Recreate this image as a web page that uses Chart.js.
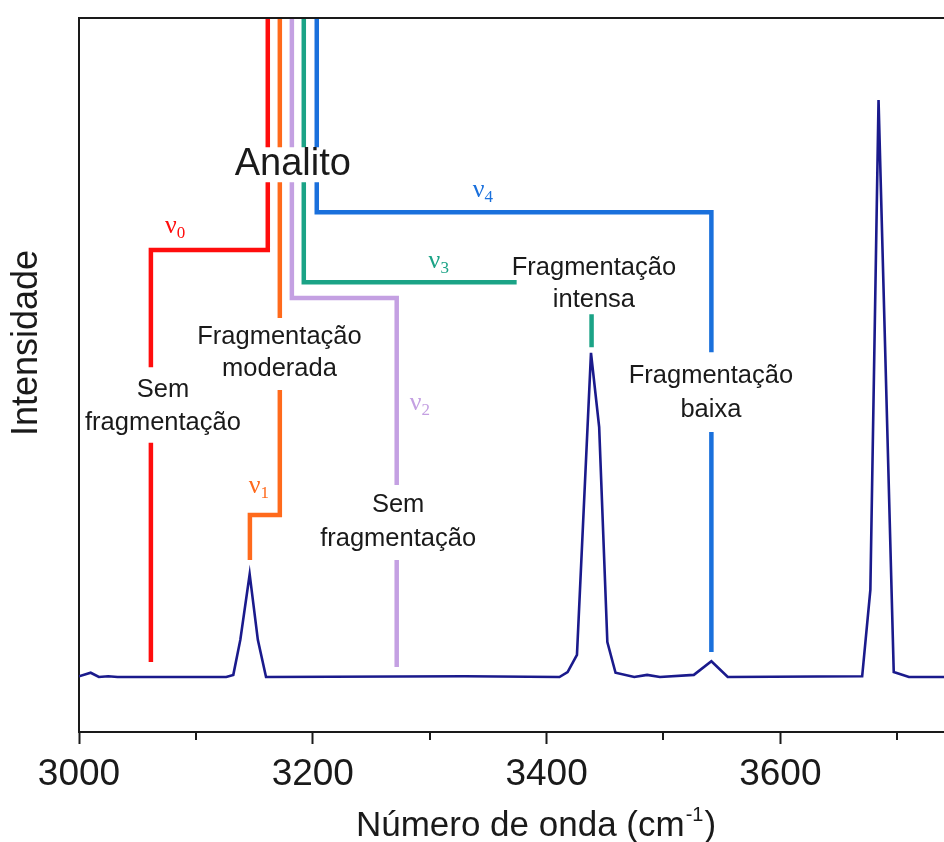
<!DOCTYPE html>
<html>
<head>
<meta charset="utf-8">
<script src="https://cdn.jsdelivr.net/npm/chart.js@4/dist/chart.umd.min.js"></script>
<style>
  html, body { margin: 0; padding: 0; background: #fff; }
  #wrap { width: 944px; height: 842px; }
</style>
</head>
<body>
<div id="wrap"><canvas id="spectrum" width="944" height="842"></canvas></div>
<script>
// espectro (número de onda x intensidade, unidades arbitrárias)
const waveNumber = [3000, 3010, 3017, 3025, 3033, 3126, 3132, 3138, 3146, 3153, 3160, 3330,
                    3411, 3418, 3426, 3438, 3445, 3452, 3459, 3475, 3486, 3497, 3526, 3541,
                    3555, 3670, 3677, 3684, 3697, 3710, 3740];
const intensity = [7.8, 8.3, 7.7, 7.8, 7.7, 7.7, 8.0, 12.9, 22.1, 12.9, 7.7, 7.8,
                   7.7, 8.4, 10.8, 53.1, 42.7, 12.6, 8.3, 7.7, 8.0, 7.7, 8.0, 9.9,
                   7.7, 7.8, 19.9, 88.5, 8.4, 7.7, 7.7];

// ticks do eixo x
const xTicks = [3000, 3100, 3200, 3300, 3400, 3500, 3600, 3700];
const xTickLabels = ['3000', '', '3200', '', '3400', '', '3600', ''];

// caminhos v0..v4 (null = interrupção para o texto)
const nu0X = [3161.5, 3161.5, null, 3161.5, 3161.5, 3061.5, 3061.5, null, 3061.5, 3061.5];
const nu0Y = [100, 81.9, null, 77, 67.5, 67.5, 51.1, null, 40.5, 9.8];
const nu1X = [3171.8, 3171.8, null, 3171.8, 3171.8, null, 3171.8, 3171.8, 3146.2, 3146.2];
const nu1Y = [100, 81.9, null, 77, 58, null, 47.9, 30.4, 30.4, 24.1];
const nu2X = [3182.1, 3182.1, null, 3182.1, 3182.1, 3271.8, 3271.8, null, 3271.8, 3271.8];
const nu2Y = [100, 81.9, null, 77, 60.8, 60.8, 34.6, null, 24.1, 9.1];
const nu3X = [3192.3, 3192.3, null, 3192.3, 3192.3, 3374.4, null, 3438.5, 3438.5];
const nu3Y = [100, 81.9, null, 77, 63, 63, null, 58.5, 53.9];
const nu4X = [3203.4, 3203.4, null, 3203.4, 3203.4, 3541, 3541, null, 3541, 3541];
const nu4Y = [100, 81.9, null, 77, 72.8, 72.8, 53.2, null, 42, 11.2];

const nuNames = ['0', '1', '2', '3', '4'];
const nuColors = ['#ff0d0d', '#ff6a1c', '#c4a0e2', '#1ba386', '#1a70dc'];

const SANS = "'Liberation Sans', Arial, sans-serif";
const SERIF = "'Liberation Serif', 'Times New Roman', serif";
const INK = '#1a1a1a';

function toPoints(xs, ys) {
    let lastX = xs[0];
    return xs.map((x, i) => {
        if (x !== null) lastX = x;
        return { x: lastX, y: ys[i] };
    });
}

function guide(xs, ys, color) {
    return {
        data: toPoints(xs, ys),
        borderColor: color,
        borderWidth: 4.5,
        borderJoinStyle: 'miter',
        borderCapStyle: 'butt',
        pointRadius: 0,
        spanGaps: false,
        tension: 0
    };
}

// textos pretos (posição em coordenadas dos dados)
const notes = [
    { text: ['Sem', 'fragmentação'], x: 3071.8, y: [48.2, 43.6] },
    { text: ['Fragmentação', 'moderada'], x: 3171.5, y: [55.6, 51.1] },
    { text: ['Sem', 'fragmentação'], x: 3273, y: [32.1, 27.3] },
    { text: ['Fragmentação', 'intensa'], x: 3440.5, y: [65.3, 60.8] },
    { text: ['Fragmentação', 'baixa'], x: 3540.6, y: [50.1, 45.4] }
];
const nuPos = [
    { x: 3073.5, y: 69.9 },
    { x: 3145.3, y: 33.5 },
    { x: 3282.9, y: 45.1 },
    { x: 3299.1, y: 65.0 },
    { x: 3336.8, y: 74.9 }
];

const annotations = {
    id: 'annotations',
    afterDatasetsDraw(chart) {
        const { ctx, chartArea, scales: { x, y } } = chart;
        ctx.save();

        // borda superior
        ctx.strokeStyle = INK;
        ctx.lineWidth = 2;
        ctx.beginPath();
        ctx.moveTo(chartArea.left - 1, chartArea.top);
        ctx.lineTo(chartArea.right, chartArea.top);
        ctx.stroke();

        // ticks menores
        xTicks.forEach((v, i) => {
            if (xTickLabels[i]) return;
            const px = Math.round(x.getPixelForValue(v));
            ctx.beginPath();
            ctx.moveTo(px, chartArea.bottom);
            ctx.lineTo(px, chartArea.bottom + 8);
            ctx.stroke();
        });

        // textos
        ctx.fillStyle = INK;
        ctx.textAlign = 'center';
        ctx.textBaseline = 'middle';
        ctx.font = '25.5px ' + SANS;
        notes.forEach(n => {
            n.text.forEach((t, i) => {
                ctx.fillText(t, x.getPixelForValue(n.x), y.getPixelForValue(n.y[i]) + 2);
            });
        });

        ctx.font = '38px ' + SANS;
        ctx.fillText('Analito', x.getPixelForValue(3182.9), y.getPixelForValue(79.7) + 2);

        // título do eixo y
        ctx.save();
        ctx.translate(27, (chartArea.top + chartArea.bottom) / 2 - 32);
        ctx.rotate(-Math.PI / 2);
        ctx.font = '36px ' + SANS;
        ctx.fillText('Intensidade', 0, 0);
        ctx.restore();

        // título do eixo x com expoente
        ctx.textAlign = 'left';
        ctx.textBaseline = 'alphabetic';
        const main = 'Número de onda (cm';
        ctx.font = '35px ' + SANS;
        const wMain = ctx.measureText(main).width;
        const wClose = ctx.measureText(')').width;
        ctx.font = '20px ' + SANS;
        const wSup = ctx.measureText('-1').width;
        const total = wMain + wSup + wClose;
        let tx = 535 - total / 2;
        const ty = 836;
        ctx.font = '35px ' + SANS;
        ctx.fillText(main, tx, ty);
        ctx.font = '20px ' + SANS;
        ctx.fillText('-1', tx + wMain + 1, ty - 15);
        ctx.font = '35px ' + SANS;
        ctx.fillText(')', tx + wMain + wSup + 2, ty);

        // rótulos v0..v4
        nuPos.forEach((p, i) => {
            const px = x.getPixelForValue(p.x);
            const py = y.getPixelForValue(p.y);
            ctx.fillStyle = nuColors[i];
            ctx.font = '26px ' + SERIF;
            ctx.fillText('ν', px, py);
            const w = ctx.measureText('ν').width;
            ctx.font = '17px ' + SERIF;
            ctx.fillText(nuNames[i], px + w, py + 5);
        });

        ctx.restore();
    }
};

new Chart(document.getElementById('spectrum'), {
    type: 'line',
    data: {
        datasets: [
            guide(nu0X, nu0Y, nuColors[0]),
            guide(nu1X, nu1Y, nuColors[1]),
            guide(nu2X, nu2Y, nuColors[2]),
            guide(nu3X, nu3Y, nuColors[3]),
            guide(nu4X, nu4Y, nuColors[4]),
            {
                data: waveNumber.map((w, i) => ({ x: w, y: intensity[i] })),
                borderColor: '#1a1a8c',
                borderWidth: 2.6,
                pointRadius: 0,
                tension: 0
            }
        ]
    },
    options: {
        responsive: false,
        animation: false,
        devicePixelRatio: 1,
        layout: { padding: { top: 18, right: 0, left: 0, bottom: 0 } },
        plugins: {
            legend: { display: false },
            tooltip: { enabled: false }
        },
        scales: {
            x: {
                type: 'linear',
                min: 3000,
                max: 3740,
                afterFit(scale) { scale.height = 110; },
                afterBuildTicks(scale) { scale.ticks = xTicks.map(v => ({ value: v })); },
                ticks: {
                    color: INK,
                    font: { family: SANS, size: 37 },
                    padding: 9,
                    maxRotation: 0,
                    autoSkip: false,
                    callback: (v, i) => xTickLabels[i]
                },
                grid: {
                    display: true,
                    drawOnChartArea: false,
                    drawTicks: true,
                    tickLength: 12,
                    tickWidth: 2,
                    tickColor: ctx => (xTickLabels[ctx.index] ? INK : 'rgba(0,0,0,0)')
                },
                border: { display: true, color: INK, width: 2 },
                title: { display: false }
            },
            y: {
                type: 'linear',
                min: 0,
                max: 100,
                afterFit(scale) { scale.width = 79; },
                ticks: { display: false },
                grid: { display: false },
                border: { display: true, color: INK, width: 2 },
                title: { display: false }
            }
        }
    },
    plugins: [annotations]
});
</script>
</body>
</html>
